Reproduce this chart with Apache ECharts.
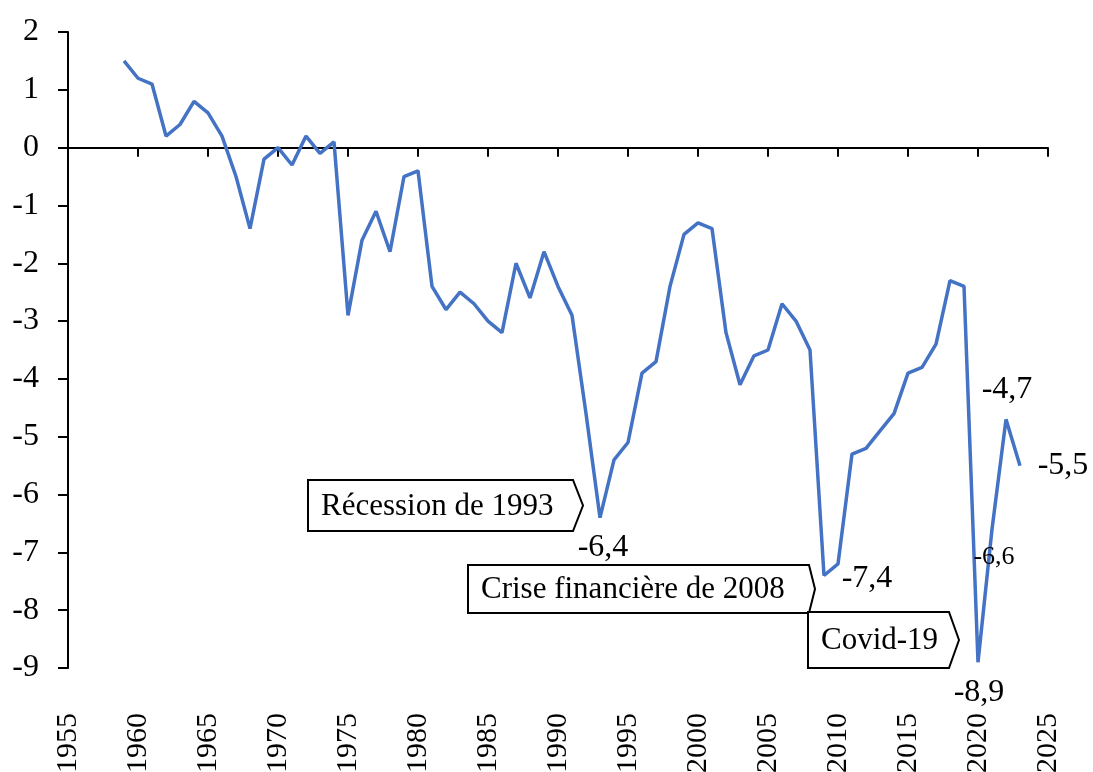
<!DOCTYPE html>
<html lang="fr">
<head>
    <meta charset="UTF-8">
    <title>Solde public</title>
    <script src="https://cdn.jsdelivr.net/npm/echarts@6/dist/echarts.min.js"></script>
    <style>
        body { margin: 0; background: #fff; }
        #chart { width: 1093px; height: 772px; }
    </style>
</head>
<body>
<div id="chart"></div>
<script type="text/javascript">
    // données (en % du PIB)
    var years = [1959, 1960, 1961, 1962, 1963, 1964, 1965, 1966, 1967, 1968, 1969,
        1970, 1971, 1972, 1973, 1974, 1975, 1976, 1977, 1978, 1979,
        1980, 1981, 1982, 1983, 1984, 1985, 1986, 1987, 1988, 1989,
        1990, 1991, 1992, 1993, 1994, 1995, 1996, 1997, 1998, 1999,
        2000, 2001, 2002, 2003, 2004, 2005, 2006, 2007, 2008, 2009,
        2010, 2011, 2012, 2013, 2014, 2015, 2016, 2017, 2018, 2019,
        2020, 2021, 2022, 2023];
    var values = [1.5, 1.2, 1.1, 0.2, 0.4, 0.8, 0.6, 0.2, -0.5, -1.4, -0.2,
        0, -0.3, 0.2, -0.1, 0.1, -2.9, -1.6, -1.1, -1.8, -0.5,
        -0.4, -2.4, -2.8, -2.5, -2.7, -3.0, -3.2, -2.0, -2.6, -1.8,
        -2.4, -2.9, -4.6, -6.4, -5.4, -5.1, -3.9, -3.7, -2.4, -1.5,
        -1.3, -1.4, -3.2, -4.1, -3.6, -3.5, -2.7, -3.0, -3.5, -7.4,
        -7.2, -5.3, -5.2, -4.9, -4.6, -3.9, -3.8, -3.4, -2.3, -2.4,
        -8.9, -6.6, -4.7, -5.5];

    // années annotées
    var labelYears = [1993, 2009, 2020, 2021, 2022, 2023];

    var font = '"Liberation Serif", "Times New Roman", serif';

    function pairs() {
        var out = [];
        for (var i = 0; i < years.length; i++) {
            out.push([years[i], values[i]]);
        }
        return out;
    }

    function valueOf(year) {
        return values[years.indexOf(year)];
    }

    // décalage de chaque étiquette par rapport au point
    var labelOffsets = {
        1993: [3, 30],
        2009: [43, 3],
        2020: [1, 30],
        2021: [2, 28],
        2022: [1, -30],
        2023: [43, 0]
    };

    var markData = [];
    for (var k = 0; k < labelYears.length; k++) {
        var y = labelYears[k];
        markData.push({
            coord: [y, valueOf(y)],
            value: valueOf(y),
            label: {
                offset: labelOffsets[y],
                fontSize: y === 2021 ? 26 : 32
            }
        });
    }

    // encadrés (pentagones pointant vers la droite)
    function callout(left, top, right, bottom, tip, text) {
        var mid = (top + bottom) / 2;
        return {
            type: 'group',
            children: [{
                type: 'polygon',
                shape: {points: [[left, top], [right, top], [tip, mid], [right, bottom], [left, bottom]]},
                style: {fill: '#fff', stroke: '#000', lineWidth: 2},
                z: 10
            }, {
                type: 'text',
                style: {
                    text: text, x: left + 13, y: mid + 1,
                    fontSize: 31, fontFamily: font, fill: '#000',
                    verticalAlign: 'middle'
                },
                z: 11
            }]
        };
    }

    var myChart = echarts.init(document.getElementById('chart'));
    myChart.setOption({
        animation: false,
        grid: {left: 68, right: 45, top: 32, bottom: 104, outerBoundsMode: 'none', containLabel: false},
        xAxis: [{
            type: 'value',
            min: 1955, max: 2025, interval: 5,
            axisLine: {onZero: true, lineStyle: {color: '#000', width: 2}},
            axisTick: {show: true, length: 9, lineStyle: {color: '#000', width: 2}},
            axisLabel: {show: false},
            splitLine: {show: false}
        }, {
            type: 'value',
            position: 'bottom',
            min: 1955, max: 2025, interval: 5,
            axisLine: {show: false, onZero: false},
            axisTick: {show: false},
            axisLabel: {
                rotate: 90, margin: 45,
                fontSize: 30, fontFamily: font, color: '#000',
                formatter: function (v) { return String(v); }
            },
            splitLine: {show: false}
        }],
        yAxis: {
            type: 'value',
            min: -9, max: 2, interval: 1,
            axisLine: {show: true, onZero: false, lineStyle: {color: '#000', width: 2}},
            axisTick: {show: true, length: 10, lineStyle: {color: '#000', width: 2}},
            axisLabel: {margin: 29, fontSize: 32, fontFamily: font, color: '#000'},
            splitLine: {show: false}
        },
        series: [{
            type: 'line',
            xAxisIndex: 0,
            data: pairs(),
            symbol: 'none',
            lineStyle: {color: '#4472C4', width: 3.5},
            markPoint: {
                symbol: 'circle',
                symbolSize: 1,
                itemStyle: {color: 'rgba(0,0,0,0)'},
                label: {
                    position: 'inside',
                    color: '#000',
                    fontFamily: font,
                    formatter: function (p) {
                        return String(p.value).replace('.', ',');
                    }
                },
                data: markData
            }
        }],
        graphic: [
            callout(308, 480, 573, 531, 583, 'Récession de 1993'),
            callout(468, 565, 809, 613, 815, 'Crise financière de 2008'),
            callout(808, 612, 949, 668, 959, 'Covid-19')
        ]
    });
</script>
</body>
</html>
